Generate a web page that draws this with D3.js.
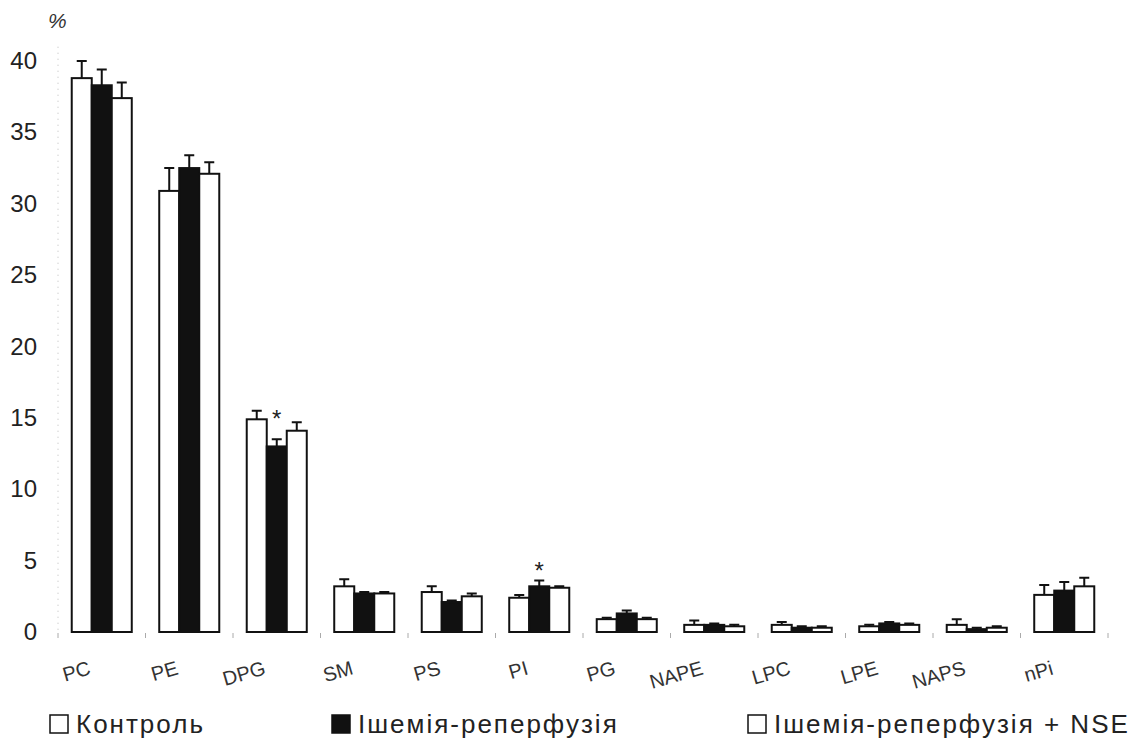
<!DOCTYPE html>
<html>
<head>
<meta charset="utf-8">
<script src="https://cdn.jsdelivr.net/npm/d3@7"></script>
<style>
  body { margin: 0; background: #fff; }
  svg { display: block; font-family: "Liberation Sans", Arial, sans-serif; }
</style>
</head>
<body>
<div id="plot"></div>
<script>
// categories along the x axis
var categories = ["PC", "PE", "DPG", "SM", "PS", "PI", "PG", "NAPE", "LPC", "LPE", "NAPS", "nPi"];
var seriesNames = ["Контроль", "Ішемія-реперфузія", "Ішемія-реперфузія + NSE"];

// mean values, %
var control   = [38.8, 30.9, 14.9, 3.2, 2.8, 2.4, 0.9, 0.5, 0.5, 0.4, 0.5, 2.6];
var ischemia  = [38.3, 32.5, 13.0, 2.7, 2.1, 3.2, 1.3, 0.5, 0.3, 0.6, 0.2, 2.9];
var ischemiaNSE = [37.4, 32.1, 14.1, 2.7, 2.5, 3.1, 0.9, 0.4, 0.3, 0.5, 0.3, 3.2];

// error bars (upper)
var controlErr   = [1.2, 1.6, 0.6, 0.5, 0.4, 0.2, 0.1, 0.3, 0.2, 0.1, 0.4, 0.7];
var ischemiaErr  = [1.1, 0.9, 0.5, 0.1, 0.1, 0.4, 0.2, 0.1, 0.1, 0.1, 0.1, 0.6];
var ischemiaNSEErr = [1.1, 0.8, 0.6, 0.1, 0.2, 0.1, 0.1, 0.1, 0.1, 0.1, 0.1, 0.6];

// significance marks (category, series index, level in %)
var stars = [{cat: "DPG", s: 1, at: 15.3}, {cat: "PI", s: 1, at: 4.6}];

var yTicks = [0, 5, 10, 15, 20, 25, 30, 35, 40];

var width = 1137, height = 754;
var fills = ["#fff", "#111", "#fff"];

var svg = d3.select("#plot").append("svg")
  .attr("width", width).attr("height", height);

var values = [control, ischemia, ischemiaNSE];
var errs = [controlErr, ischemiaErr, ischemiaNSEErr];

var x = d3.scaleBand().domain(categories).range([58, 1108])
  .paddingInner(0.314).paddingOuter(0.157);
var xs = d3.scaleBand().domain([0, 1, 2]).range([0, x.bandwidth()]);
var y = d3.scaleLinear().domain([0, 40]).range([632, 61]);

// faint dotted y axis line
svg.append("line")
  .attr("x1", 58).attr("x2", 58)
  .attr("y1", y(41)).attr("y2", y(0))
  .attr("stroke", "#bbb").attr("stroke-dasharray", "1,5");

// y tick labels
svg.selectAll(".ytick").data(yTicks).enter().append("text")
  .attr("class", "ytick")
  .attr("x", 37).attr("y", function(d){ return y(d) + 8; })
  .attr("text-anchor", "end")
  .attr("font-size", "24px")
  .attr("fill", "#222")
  .text(function(d){ return d; });

svg.append("text").attr("x", 48).attr("y", 28)
  .attr("font-size", "21px").attr("font-style", "italic")
  .attr("fill", "#333")
  .text("%");

// small ticks between groups on the x axis
var step = x.step();
svg.selectAll(".xtick").data(d3.range(categories.length + 1)).enter().append("line")
  .attr("x1", function(i){ return x.range()[0] + i * step; })
  .attr("x2", function(i){ return x.range()[0] + i * step; })
  .attr("y1", y(0) + 1).attr("y2", y(0) + 6)
  .attr("stroke", "#aaa").attr("stroke-width", 1);

// bars
var rows = [];
categories.forEach(function(c, i){
  for (var s = 0; s < 3; s++) rows.push({cat: c, s: s, v: values[s][i], e: errs[s][i]});
});

var groups = svg.append("g");

// error bars first so bar outline sits on top of them
groups.selectAll(".err").data(rows).enter().append("path")
  .attr("class", "err")
  .attr("d", function(d){
    var cx = x(d.cat) + xs(d.s) + xs.bandwidth() / 2;
    var t = y(d.v + d.e);
    return "M" + cx + "," + y(d.v) + "V" + t + "M" + (cx - 5) + "," + t + "H" + (cx + 5);
  })
  .attr("stroke", "#111").attr("stroke-width", 2).attr("fill", "none");

groups.selectAll(".bar").data(rows).enter().append("rect")
  .attr("class", "bar")
  .attr("x", function(d){ return x(d.cat) + xs(d.s); })
  .attr("y", function(d){ return y(d.v); })
  .attr("width", xs.bandwidth())
  .attr("height", function(d){ return y(0) - y(d.v); })
  .attr("fill", function(d){ return fills[d.s]; })
  .attr("stroke", "#111").attr("stroke-width", 2);

// asterisks
svg.selectAll(".star").data(stars).enter().append("text")
  .attr("x", function(d){ return x(d.cat) + xs(d.s) + xs.bandwidth() / 2; })
  .attr("y", function(d){ return y(d.at) + 13; })
  .attr("text-anchor", "middle")
  .attr("font-size", "24px").attr("fill", "#222")
  .text("*");

// category labels, rotated
svg.selectAll(".xlab").data(categories).enter().append("text")
  .attr("class", "xlab")
  .attr("transform", function(d){
    return "translate(" + (x(d) + xs.bandwidth()) + ",674) rotate(-16)";
  })
  .attr("text-anchor", "end")
  .attr("font-size", "20px")
  .attr("fill", "#333")
  .text(function(d){ return d; });

// legend
var legendX = [50, 332, 748];
var leg = svg.selectAll(".leg").data(seriesNames).enter().append("g")
  .attr("transform", function(d, i){ return "translate(" + legendX[i] + ",715)"; });
leg.append("rect")
  .attr("width", 18).attr("height", 18)
  .attr("fill", function(d, i){ return fills[i]; })
  .attr("stroke", "#111").attr("stroke-width", 1.5);
leg.append("text")
  .attr("x", 26).attr("y", 18)
  .attr("font-size", "26px").attr("letter-spacing", "2px")
  .attr("fill", "#222")
  .text(function(d){ return d; });
</script>
</body>
</html>
